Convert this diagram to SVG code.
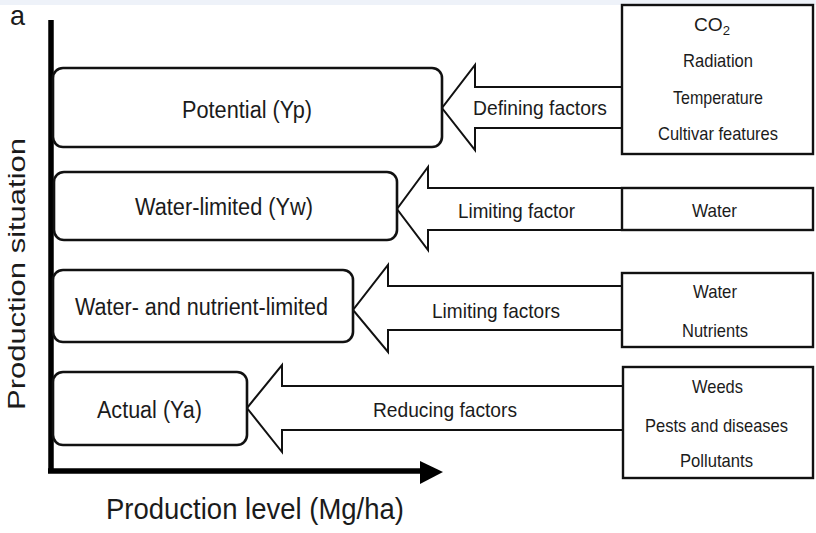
<svg xmlns="http://www.w3.org/2000/svg" width="816" height="533" viewBox="0 0 816 533">
  <style>
    text { font-family: "Liberation Sans", Arial, sans-serif; fill: #1b1b1b; }
    .situation { fill: #ffffff; stroke: #111111; stroke-width: 2.6; }
    .factors { fill: #ffffff; stroke: #111111; stroke-width: 2.4; }
    .flow { fill: #ffffff; stroke: #111111; stroke-width: 2; stroke-linejoin: miter; }
    .axis { stroke: #000000; stroke-width: 5.5; fill: none; }
    .lbl { font-size: 23px; text-anchor: middle; }
    .flbl { font-size: 21px; text-anchor: middle; }
    .item { font-size: 19px; text-anchor: middle; }
  </style>

  <rect x="0" y="0" width="816" height="533" fill="#ffffff"/>
  <rect x="0" y="0" width="816" height="5" fill="#eef2f9"/>

  <!-- panel letter -->
  <text x="10" y="25" font-size="28" textLength="15" lengthAdjust="spacingAndGlyphs">a</text>

  <!-- axes -->
  <g id="axes">
    <line class="axis" x1="51" y1="20" x2="51" y2="473"/>
    <line class="axis" x1="48" y1="471" x2="424" y2="471"/>
    <polygon points="420,461 443,472 420,484" fill="#000000"/>
    <text transform="translate(25,274) rotate(-90)" font-size="24" text-anchor="middle" textLength="272" lengthAdjust="spacingAndGlyphs">Production situation</text>
    <text x="255" y="519" font-size="30" text-anchor="middle" textLength="298" lengthAdjust="spacingAndGlyphs">Production level (Mg/ha)</text>
  </g>

  <!-- arrows from factor boxes to production situations -->
  <g id="connectors">
    <path class="flow" d="M622,87 H475 V65 L442,108 L475,150 V128 H622"/>
    <path class="flow" d="M622,188 H428 V167 L397,209 L428,250 V230 H622"/>
    <path class="flow" d="M622,286 H388 V265 L353,310 L388,352 V330 H622"/>
    <path class="flow" d="M622,386 H282 V365 L247,408 L282,452 V430 H622"/>
    <text class="flbl" x="540" y="115" textLength="134" lengthAdjust="spacingAndGlyphs">Defining factors</text>
    <text class="flbl" x="516.5" y="218" textLength="117" lengthAdjust="spacingAndGlyphs">Limiting factor</text>
    <text class="flbl" x="496" y="318" textLength="128" lengthAdjust="spacingAndGlyphs">Limiting factors</text>
    <text class="flbl" x="445" y="417" textLength="144" lengthAdjust="spacingAndGlyphs">Reducing factors</text>
  </g>

  <!-- production situations -->
  <g id="potential">
    <rect class="situation" x="53" y="68" width="389" height="79" rx="10"/>
    <text class="lbl" x="247" y="118" textLength="130" lengthAdjust="spacingAndGlyphs">Potential  (Yp)</text>
  </g>
  <g id="water-limited">
    <rect class="situation" x="54" y="172" width="343" height="68" rx="10"/>
    <text class="lbl" x="224" y="215" textLength="178" lengthAdjust="spacingAndGlyphs">Water-limited  (Yw)</text>
  </g>
  <g id="water-nutrient-limited">
    <rect class="situation" x="53" y="270" width="300" height="72" rx="10"/>
    <text class="lbl" x="201.5" y="315" textLength="253" lengthAdjust="spacingAndGlyphs">Water- and nutrient-limited</text>
  </g>
  <g id="actual">
    <rect class="situation" x="53" y="372" width="194" height="73" rx="10"/>
    <text class="lbl" x="149.5" y="418" textLength="105" lengthAdjust="spacingAndGlyphs">Actual (Ya)</text>
  </g>

  <!-- factor boxes -->
  <g id="defining-factors">
    <rect class="factors" x="622" y="5" width="191" height="149"/>
    <text class="item" x="712" y="31" textLength="36" lengthAdjust="spacingAndGlyphs">CO<tspan font-size="13" dy="4">2</tspan></text>
    <text class="item" x="718" y="67" textLength="70" lengthAdjust="spacingAndGlyphs">Radiation</text>
    <text class="item" x="718" y="104" textLength="90" lengthAdjust="spacingAndGlyphs">Temperature</text>
    <text class="item" x="718" y="140" textLength="120" lengthAdjust="spacingAndGlyphs">Cultivar features</text>
  </g>
  <g id="limiting-factor">
    <rect class="factors" x="622" y="188" width="191" height="42"/>
    <text class="item" x="714.5" y="217" textLength="45" lengthAdjust="spacingAndGlyphs">Water</text>
  </g>
  <g id="limiting-factors">
    <rect class="factors" x="622" y="273" width="191" height="74"/>
    <text class="item" x="715" y="298" textLength="44" lengthAdjust="spacingAndGlyphs">Water</text>
    <text class="item" x="715" y="337" textLength="66" lengthAdjust="spacingAndGlyphs">Nutrients</text>
  </g>
  <g id="reducing-factors">
    <rect class="factors" x="623" y="367" width="190" height="111"/>
    <text class="item" x="717.5" y="393" textLength="51" lengthAdjust="spacingAndGlyphs">Weeds</text>
    <text class="item" x="716.5" y="432" textLength="143" lengthAdjust="spacingAndGlyphs">Pests and diseases</text>
    <text class="item" x="716.5" y="467" textLength="73" lengthAdjust="spacingAndGlyphs">Pollutants</text>
  </g>
</svg>
